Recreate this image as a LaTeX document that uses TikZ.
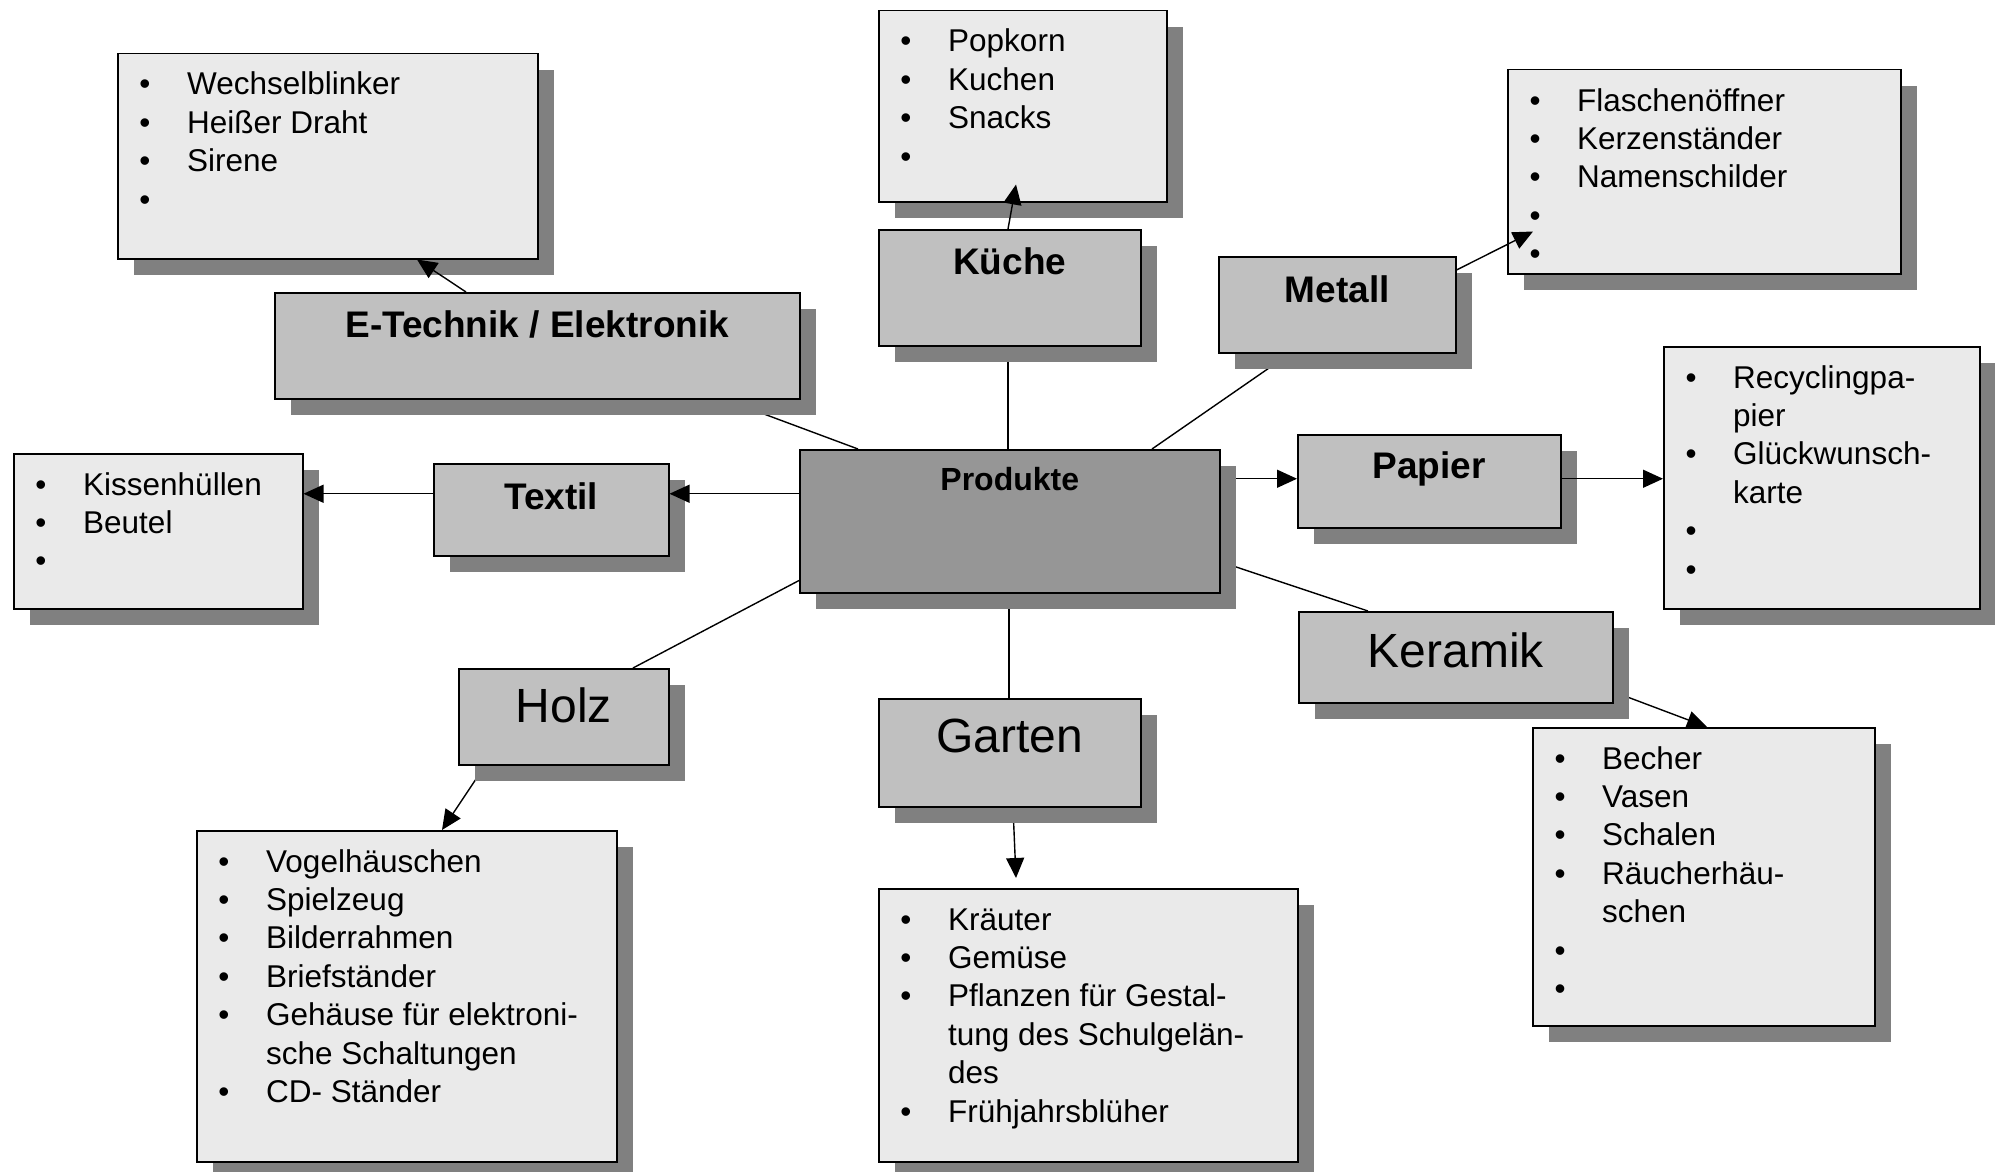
\documentclass[tikz,border=0pt]{standalone}
\usepackage{fontspec}
\setmainfont{Liberation Sans}
\usetikzlibrary{arrows.meta,shadows,calc}
\definecolor{listfill}{HTML}{EAEAEA}
\definecolor{catfill}{HTML}{C0C0C0}
\definecolor{prodfill}{HTML}{969696}
\definecolor{shgray}{HTML}{808080}
\pgfdeclarelayer{conn}
\pgfdeclarelayer{top}
\pgfsetlayers{conn,main,top}
\tikzset{
  boxbase/.style={draw=black, line width=1.5pt, inner sep=0pt, anchor=north west,
    drop shadow={shadow xshift=16pt, shadow yshift=-16pt, opacity=1, fill=shgray, draw=none}},
  listbox/.style={boxbase, fill=listfill},
  catbox/.style={boxbase, fill=catfill},
  prodbox/.style={boxbase, fill=prodfill},
  listtext/.style={inner sep=0pt, font=\fontsize{31.5}{38.4}\selectfont},
  cattext/.style={inner sep=0pt, anchor=base, font=\fontsize{37}{44}\selectfont\bfseries},
  prodtext/.style={inner sep=0pt, anchor=base, font=\fontsize{32}{38}\selectfont\bfseries},
  bigtext/.style={inner sep=0pt, anchor=base, font=\fontsize{48}{56}\selectfont},
  conline/.style={line width=1.4pt, draw=black},
  arr/.style={conline, -{Triangle[length=20pt,width=18pt]}}
}
\newcommand\listitems[2]{%
  \foreach \k/\t [count=\i from 0] in {#2} {
    \node[listtext, anchor=base west] (#1-t\i) at ([xshift=70pt,yshift={-(42+38.4*\i)*1pt}]#1.north west) {\t};
    \if\k b\node[listtext, anchor=base] (#1-b\i) at ([xshift=28pt,yshift={-(42+38.4*\i)*1pt}]#1.north west) {\textbullet};\fi
  }}
\begin{document}
\begin{tikzpicture}[x=1pt,y=-1pt]
\useasboundingbox (0,0) rectangle (1995,1172);
% list boxes
\node[listbox, minimum width=420pt, minimum height=205pt] (etl) at (117,53) {};
\node[listbox, minimum width=288pt, minimum height=191pt] (kul) at (878,10) {};
\node[listbox, minimum width=393pt, minimum height=204pt] (mel) at (1507,69) {};
\node[listbox, minimum width=316pt, minimum height=262pt] (pal) at (1663,346) {};
\node[listbox, minimum width=289pt, minimum height=155pt] (kil) at (13,453) {};
\node[listbox, minimum width=420pt, minimum height=331pt] (hol) at (196,830) {};
\node[listbox, minimum width=419pt, minimum height=273pt] (gal) at (878,888) {};
\node[listbox, minimum width=342pt, minimum height=298pt] (kel) at (1532,727) {};
% category boxes
\node[catbox, minimum width=525pt, minimum height=106pt] (etech) at (274,292) {};
\node[catbox, minimum width=262pt, minimum height=116pt] (kueche) at (878,229) {};
\node[catbox, minimum width=237pt, minimum height=96pt] (metall) at (1218,256) {};
\node[catbox, minimum width=263pt, minimum height=93pt] (papier) at (1297,434) {};
\node[catbox, minimum width=235pt, minimum height=92pt] (textil) at (433,463) {};
\node[prodbox, minimum width=420pt, minimum height=143pt] (prod) at (799,449) {};
\node[catbox, minimum width=210pt, minimum height=96pt] (holz) at (458,668) {};
\node[catbox, minimum width=262pt, minimum height=108pt] (garten) at (878,698) {};
\node[catbox, minimum width=314pt, minimum height=91pt] (keramik) at (1298,611) {};
% category labels
\node[cattext] (etech-l) at ([yshift=-45pt]etech.north) {E-Technik / Elektronik};
\node[cattext] (kueche-l) at ([yshift=-45pt]kueche.north) {Küche};
\node[cattext] (metall-l) at ([yshift=-46pt]metall.north) {Metall};
\node[cattext] (papier-l) at ([yshift=-44pt]papier.north) {Papier};
\node[cattext] (textil-l) at ([yshift=-46pt]textil.north) {Textil};
\node[prodtext] (prod-l) at ([yshift=-41pt]prod.north) {Produkte};
\node[bigtext] (holz-l) at ([yshift=-54pt]holz.north) {Holz};
\node[bigtext] (garten-l) at ([yshift=-54pt]garten.north) {Garten};
\node[bigtext] (keramik-l) at ([yshift=-56pt]keramik.north) {Keramik};
% list contents
\listitems{etl}{b/Wechselblinker, b/Heißer Draht, b/Sirene, b/{}}
\listitems{kul}{b/Popkorn, b/Kuchen, b/Snacks, b/{}}
\listitems{mel}{b/Flaschenöffner, b/Kerzenständer, b/Namenschilder, b/{}, b/{}}
\listitems{pal}{b/Recyclingpa-, c/pier, b/Glückwunsch-, c/karte, b/{}, b/{}}
\listitems{kil}{b/Kissenhüllen, b/Beutel, b/{}}
\listitems{hol}{b/Vogelhäuschen, b/Spielzeug, b/Bilderrahmen, b/Briefständer, b/Gehäuse für elektroni-, c/sche Schaltungen, b/CD- Ständer}
\listitems{gal}{b/Kräuter, b/Gemüse, b/Pflanzen für Gestal-, c/tung des Schulgelän-, c/des, b/Frühjahrsblüher}
\listitems{kel}{b/Becher, b/Vasen, b/Schalen, b/Räucherhäu-, c/schen, b/{}, b/{}}
% connectors under the boxes
\begin{pgfonlayer}{conn}
\draw[conline] ([xshift=59pt]prod.north west) -- ([xshift=451pt]etech.south west);
\draw[conline] ([xshift=209pt]prod.north west) -- ([xshift=130pt]kueche.south west);
\draw[conline] ([xshift=353pt]prod.north west) -- ([xshift=72pt]metall.south west);
\draw[arr] ([yshift=42.5pt]prod.east) -- ([yshift=2.5pt]papier.west);
\draw[conline] ([yshift=-40.5pt]prod.east) -- ([xshift=70pt]keramik.north west);
\draw[conline] ([yshift=13pt]prod.south west) -- ([xshift=175pt]holz.north west);
\draw[conline] ([xshift=210pt]prod.south west) -- ([xshift=131pt]garten.north west);
\draw[arr] ([xshift=135pt]garten.south west) -- ([xshift=138pt,yshift=10pt]gal.north west);
\draw[arr] ([xshift=27pt]holz.south west) -- ([xshift=246pt]hol.north west);
\draw[arr] ([yshift=-34.5pt]keramik.east) -- ([xshift=175pt]kel.north west);
\end{pgfonlayer}
% connectors over the boxes
\begin{pgfonlayer}{top}
\draw[arr] ([yshift=27.5pt]prod.west) -- ([yshift=16pt]textil.east);
\draw[arr] ([xshift=192pt]etech.north west) -- ([xshift=300pt]etl.south west);
\draw[arr] ([xshift=130pt]kueche.north west) -- ([xshift=138pt,yshift=18pt]kul.south west);
\draw[arr] ([yshift=-14pt]metall.north east) -- ([xshift=26pt,yshift=43pt]mel.south west);
\draw[arr] ([yshift=16pt]textil.west) -- ([yshift=37.5pt]kil.east);
\draw[arr] ([yshift=2.5pt]papier.east) -- ([yshift=-1pt]pal.west);
\end{pgfonlayer}
\end{tikzpicture}
\end{document}
